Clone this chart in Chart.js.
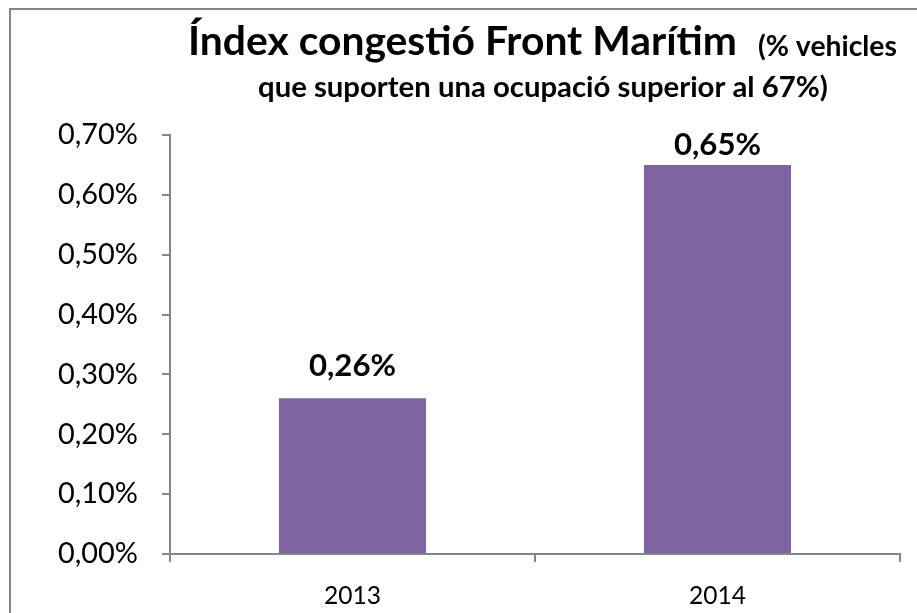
<!DOCTYPE html>
<html>
<head>
<meta charset="utf-8">
<script src="https://cdn.jsdelivr.net/npm/chart.js@4/dist/chart.umd.min.js"></script>
<style>
  html, body { margin: 0; padding: 0; background: #ffffff; }
  #wrap { width: 917px; height: 613px; position: relative; }
</style>
</head>
<body>
<div id="wrap"><canvas id="c" width="917" height="613"></canvas></div>
<script>
// ---- data ----
const categories = ['2013', '2014'];
const values = [0.26, 0.65];            // percent
const titleMain = 'Índex congestió Front Marítim';
const titleSmall = '(% vehicles';
const titleLine2 = 'que suporten una ocupació superior al 67%)';
const yTickMax = 0.7;
const yTickStep = 0.1;

const FAMILY = 'Lato, "Open Sans", "DejaVu Sans", sans-serif';
const AXIS = '#868686';
const BAR = '#8064A2';

function fmt(v) { return v.toFixed(2).replace('.', ',') + '%'; }

const mctx = document.createElement('canvas').getContext('2d');
function fit(text, weight, width) {
  mctx.font = weight + ' 100px ' + FAMILY;
  return 100 * width / mctx.measureText(text).width;
}

const tickSize = fit('0,70%', 'normal', 80);
const xTickSize = fit('2013', 'normal', 57);
const labelSize = fit('0,26%', 'bold', 87);
const mainSize = fit(titleMain, 'bold', 549);
const smallSize = fit(titleSmall, 'bold', 139);
const line2Size = fit(titleLine2, 'bold', 570);

const decorPlugin = {
  id: 'decor',
  afterDraw(chart) {
    const ctx = chart.ctx;
    const area = chart.chartArea;
    ctx.save();
    // outer frame (left + top visible)
    ctx.strokeStyle = AXIS;
    ctx.lineWidth = 2;
    ctx.beginPath();
    ctx.moveTo(10, 613);
    ctx.lineTo(10, 9);
    ctx.lineTo(917, 9);
    ctx.stroke();

    // title
    ctx.fillStyle = '#000';
    ctx.textBaseline = 'alphabetic';
    ctx.textAlign = 'left';
    ctx.font = 'bold ' + mainSize + 'px ' + FAMILY;
    ctx.fillText(titleMain, 188, 55);
    ctx.font = 'bold ' + smallSize + 'px ' + FAMILY;
    ctx.fillText(titleSmall, 758, 56);
    ctx.font = 'bold ' + line2Size + 'px ' + FAMILY;
    ctx.fillText(titleLine2, 258, 97);

    // data labels
    ctx.font = 'bold ' + labelSize + 'px ' + FAMILY;
    ctx.textAlign = 'center';
    const meta = chart.getDatasetMeta(0);
    meta.data.forEach((bar, i) => {
      const y = Math.max(bar.y - 22, area.top + 20);
      ctx.fillText(fmt(values[i]), bar.x, y);
    });
    ctx.restore();
  }
};

new Chart(document.getElementById('c'), {
  type: 'bar',
  data: {
    labels: categories,
    datasets: [{
      data: values,
      backgroundColor: BAR,
      borderWidth: 0,
      categoryPercentage: 1,
      barPercentage: 0.403
    }]
  },
  options: {
    responsive: false,
    animation: false,
    devicePixelRatio: 1,
    layout: { padding: { left: 0, right: 17, top: 135, bottom: 0 } },
    plugins: { legend: { display: false }, tooltip: { enabled: false }, title: { display: false } },
    scales: {
      x: {
        grid: { display: true, drawOnChartArea: false, drawTicks: true, tickLength: 8, color: AXIS, lineWidth: 2, offset: true },
        border: { display: true, color: AXIS, width: 2 },
        ticks: { color: '#000', font: { family: FAMILY, size: xTickSize }, padding: 19, maxRotation: 0 },
        afterFit(scale) { scale.height = 59; }
      },
      y: {
        min: 0,
        max: yTickMax,
        grid: { display: true, drawOnChartArea: false, drawTicks: true, tickLength: 8, color: AXIS, lineWidth: 2 },
        border: { display: true, color: AXIS, width: 2 },
        ticks: {
          stepSize: yTickStep,
          color: '#000',
          font: { family: FAMILY, size: tickSize },
          padding: 24,
          callback: (v) => fmt(v)
        },
        afterFit(scale) { scale.width = 170; }
      }
    }
  },
  plugins: [decorPlugin]
});
</script>
</body>
</html>
